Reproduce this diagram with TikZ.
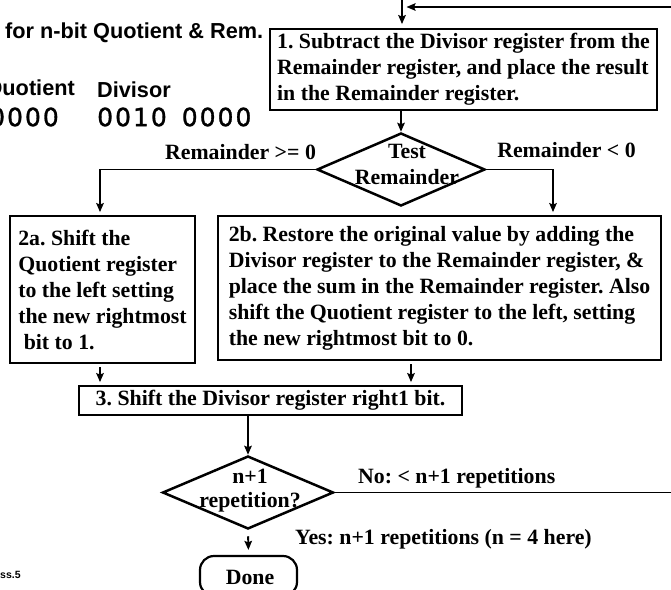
\documentclass[tikz,border=0pt]{standalone}
\usepackage{fontspec}
\setmainfont{Liberation Serif}
\newfontfamily\arialfont{Liberation Sans}
\newfontfamily\digitfont[LetterSpace=8,FakeBold=1.2]{DejaVu Sans}
\usetikzlibrary{shapes.geometric,arrows.meta}
\frenchspacing

\begin{document}
\begin{tikzpicture}[x=1pt,y=-1pt,
  boxtxt/.style={font=\fontsize{21.8}{26}\selectfont\bfseries},
  procbox/.style={draw,line width=2.8pt,boxtxt,align=left,inner sep=0pt},
  decision/.style={draw,shape=diamond,line width=2.5pt,inner sep=0pt},
  flow/.style={line width=1.9pt,-{Stealth[length=9pt,width=7.5pt,inset=1.5pt]}},
  plainline/.style={line width=1.9pt},
  lbl/.style={boxtxt,inner sep=0pt},
  toptxt/.style={font=\arialfont\bfseries\fontsize{21.7}{24}\selectfont,inner sep=0pt},
  digits/.style={font=\digitfont\fontsize{25}{28}\selectfont,inner sep=0pt},
]
\useasboundingbox (0,0) rectangle (671,589);
\clip (0,0) rectangle (671,589);

% top-left texts
\node[toptxt,anchor=west] (title) at (5,33) {for n-bit Quotient \& Rem.};
\node[toptxt,anchor=east] (qlbl) at (75,90) {Quotient};
\node[toptxt,anchor=west] (dlbl) at (97,90) {Divisor};
\node[digits,anchor=east] (qval) at (59,117) {0000};
\node[digits,anchor=west] (dval) at (97,117) {0010\hspace{15pt}0000};
\node[font=\arialfont\bfseries\fontsize{10.5}{12}\selectfont,inner sep=0pt,anchor=west] (foot) at (0,575) {ss.5};

% boxes
\node[procbox,minimum width=387pt,minimum height=81pt] (s1) at (463.5,69.5)
  {1. Subtract the Divisor register from the\\Remainder register, and place the result\\in the Remainder register.};
\node[decision,minimum width=168pt,minimum height=73pt] (test) at (401,169.5) {};
\node[lbl,align=center] (testtxt) at (407,164) {Test\\Remainder};
\node[lbl] (ge) at (240.5,152) {Remainder >= 0};
\node[lbl] (lt) at (566.5,150) {Remainder < 0};

\node[procbox,minimum width=185pt,minimum height=147pt] (b2a) at (102.5,289.5)
  {2a. Shift the\\Quotient register\\to the left setting\\the new rightmost\\\ bit to 1.};
\node[procbox,minimum width=443pt,minimum height=144pt] (b2b) at (439.5,288)
  {2b. Restore the original value by adding the\\Divisor register to the Remainder register, \&\\place the sum in the Remainder register. Also\\shift the Quotient register to the left, setting\\the new rightmost bit to 0.};

\node[procbox,minimum width=383pt,minimum height=29pt] (s3) at (270.5,400.5)
  {3. Shift the Divisor register right1 bit.};

\node[decision,minimum width=171pt,minimum height=73pt] (rep) at (248,492.5) {};
\node[lbl,align=center,font=\fontsize{21.8}{24}\selectfont\bfseries] (reptxt) at (250,491) {n+1\\repetition?};
\node[lbl,anchor=west] (nolbl) at (358,478) {No: < n+1 repetitions};
\node[lbl,anchor=west] (yeslbl) at (295,539) {Yes: n+1 repetitions (n = 4 here)};

\node[draw,line width=2.2pt,rounded corners=14pt,minimum width=97pt,minimum height=40pt,boxtxt,inner sep=0pt] (done) at (248.5,576) {};
\node[lbl] (donetxt) at (250,577) {Done};

% connectors
\coordinate (topin) at (402,0);
\coordinate (loopin) at (671,7);
\coordinate (rb) at (553,169.5);
\coordinate (c2a) at (100,0);
\coordinate (c2b) at (411,0);
\coordinate (noout) at (671,492.5);

\draw[flow,shorten >=3.5pt] (topin) -- (topin |- s1.north);
\draw[flow,shorten >=4.5pt] (loopin) -- (topin |- loopin);
\draw[flow] (s1.south -| test.north) -- (test.north);
\draw[flow,shorten >=2.5pt] (test.west) -| (c2a |- b2a.north);
\draw[flow,shorten >=2.5pt] (test.east) -- (rb) -- (rb |- b2b.north);
\draw[flow,shorten <=3pt,shorten >=2.5pt] (c2a |- b2a.south) -- (c2a |- s3.north);
\draw[flow,shorten <=3pt,shorten >=2.5pt] (c2b |- b2b.south) -- (c2b |- s3.north);
\draw[flow] (s3.south -| rep.north) -- (rep.north);
\draw[plainline] (rep.east) -- (noout);
\draw[flow,shorten <=6pt,shorten >=5pt] (rep.south) -- (done.north);
\end{tikzpicture}
\end{document}
